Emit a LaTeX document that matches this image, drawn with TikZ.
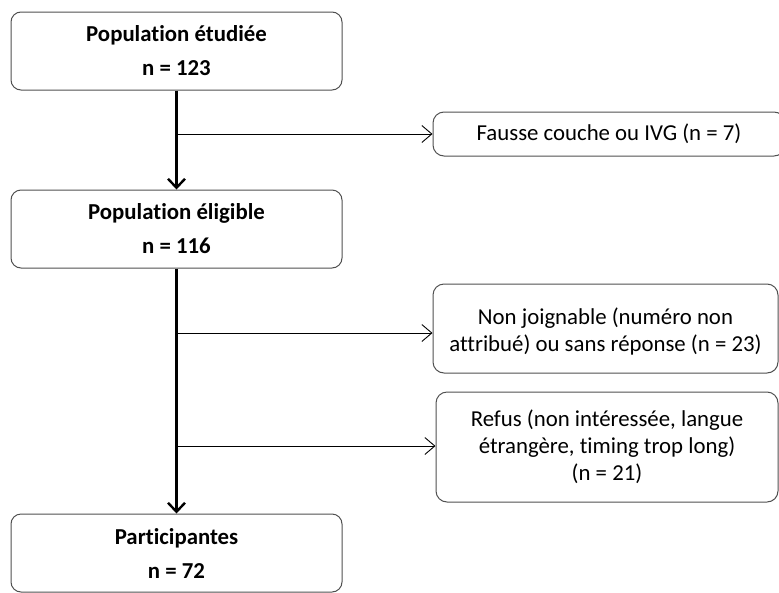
\documentclass[tikz,border=0pt]{standalone}
\usepackage{fontspec}
\setmainfont{Carlito}[Ligatures=NoCommon]
\usetikzlibrary{arrows.meta}
\definecolor{boxline}{HTML}{505050}
\tikzset{
  mainbox/.style={draw=boxline, line width=1pt, rounded corners=10pt, minimum width=331pt, minimum height=78pt, align=center, inner sep=0pt,
    font=\fontsize{22.8}{34}\selectfont\bfseries, execute at begin node={\rule{0pt}{29pt}}},
  sidebox/.style={draw=boxline, line width=1pt, rounded corners=11pt, align=center, inner sep=0pt,
    font=\fontsize{22.8}{27}\selectfont},
  mainarrow/.style={line width=2.6pt, -{Straight Barb[length=9pt,width=17pt,line width=2.4pt]}},
  sidearrow/.style={line width=0.9pt, -{Straight Barb[length=10pt,width=17pt,line width=0.9pt]}}
}
\begin{document}
\begin{tikzpicture}[x=1pt,y=1pt]
\useasboundingbox (0,0) rectangle (779,-592);
\node[mainbox] (b1) at (176.5,-51) {Population étudiée\\n = 123};
\node[mainbox] (b2) at (176.5,-229) {Population éligible\\n = 116};
\node[mainbox] (b3) at (176.5,-553) {Participantes\\n = 72};
\node[sidebox, minimum width=352pt, minimum height=44pt] (r1) at (609,-134) {Fausse couche ou IVG (n = 7)};
\node[sidebox, minimum width=345pt, minimum height=89pt] (r2) at (605.5,-328.5) {\rule{0pt}{22pt}Non joignable (numéro non\\attribué) ou sans réponse (n = 23)};
\node[sidebox, minimum width=342pt, minimum height=110pt] (r3) at (607,-447) {Refus (non intéressée, langue\\étrangère, timing trop long)\\(n = 21)};
\coordinate (j1) at (176,-134);
\coordinate (j2) at (176,-333);
\coordinate (j3) at (176,-446);
\draw[mainarrow] (b1.south) -- (b2.north);
\draw[mainarrow] (b2.south) -- (b3.north);
\draw[sidearrow] (j1) -- (r1.west);
\draw[sidearrow] (j2) -- (j2 -| r2.west);
\draw[sidearrow] (j3) -- (j3 -| r3.west);
\end{tikzpicture}
\end{document}
